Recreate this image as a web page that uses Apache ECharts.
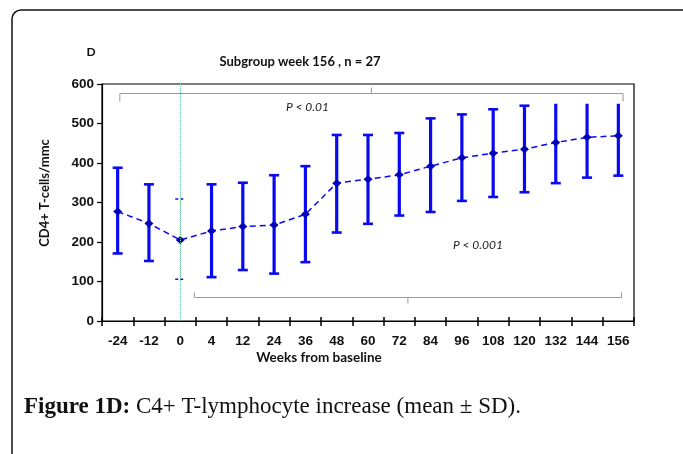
<!DOCTYPE html>
<html>
<head>
<meta charset="utf-8">
<script src="https://cdn.jsdelivr.net/npm/echarts@6/dist/echarts.min.js"></script>
<style>
  html, body { margin: 0; padding: 0; background: #fff; }
  #chart { width: 683px; height: 454px; }
</style>
</head>
<body>
<div id="chart"></div>
<script>
// ---- data ----
const categories = ['-24', '-12', '0', '4', '12', '24', '36', '48', '60', '72', '84', '96', '108', '120', '132', '144', '156'];
const meanValues = [277, 247, 205, 228, 239, 243, 270, 349, 359, 370, 392, 413, 425, 435, 452, 465, 469];
const upperValues = [388, 346, 309, 346, 350, 369, 392, 471, 471, 476, 513, 523, 536, 545, 553, 553, 553];
const lowerValues = [171, 152, 106, 111, 129, 120, 149, 224, 246, 267, 276, 304, 314, 326, 349, 363, 368];
const yTicks = [0, 100, 200, 300, 400, 500, 600];
const bracketFrom = ['-24', '4'];
const bracketTo = ['156', '156'];
const bracketValue = [577, 61];
const bracketLabels = ['P < 0.01', 'P < 0.001'];
const titleText = 'Subgroup week 156 , n = 27';
const panelLetter = 'D';
const yAxisTitle = 'CD4+ T-cells/mmc';
const xAxisTitle = 'Weeks from baseline';
const captionBold = 'Figure 1D:';
const captionRest = ' C4+ T-lymphocyte increase (mean ± SD).';
const baselineCategory = '0';

// ---- styles / layout (not data) ----
const BLUE = '#0a0af0';
const DARK_BLUE = '#0000b8';
const capClip = 550; // caps above this level are cut off in the original figure
const bracketStyle = [
  { leftOff: 0.07, rightOff: 0.15, endTick: 8, midTick: -6, labelDx: -64, labelDy: 14 },
  { leftOff: -0.55, rightOff: 0.1, endTick: -5, midTick: 6, labelDx: 70, labelDy: -52 }
];

const chart = echarts.init(document.getElementById('chart'), null, { renderer: 'canvas' });

const errData = categories.map((c, i) => [i, lowerValues[i], upperValues[i]]);
const bracketData = bracketFrom.map((f, k) => [categories.indexOf(f), categories.indexOf(bracketTo[k]), bracketValue[k], k]);

const option = {
  animation: false,
  backgroundColor: '#fff',
  grid: { left: 102, top: 84, right: 49, bottom: 133, show: true, borderColor: '#000', borderWidth: 1.2 },
  xAxis: [{
    type: 'category',
    data: categories,
    boundaryGap: true,
    axisLine: { lineStyle: { color: '#000', width: 1.2 } },
    axisTick: { show: true, length: 5, lineStyle: { color: '#000', width: 1.5 } },
    axisLabel: { color: '#111', fontFamily: 'Liberation Sans', fontWeight: 'bold', fontSize: 13.5, margin: 13 },
    splitLine: { show: false }
  }, {
    type: 'category',
    data: categories,
    boundaryGap: true,
    position: 'bottom',
    axisLine: { show: false },
    axisTick: { show: true, inside: true, length: 4, lineStyle: { color: '#000', width: 1.5 } },
    axisLabel: { show: false },
    splitLine: { show: false }
  }],
  yAxis: {
    type: 'value',
    min: 0, max: 600, interval: 100,
    axisLine: { show: true, lineStyle: { color: '#000', width: 1.2 } },
    axisTick: { show: true, length: 5, lineStyle: { color: '#000', width: 1.2 } },
    axisLabel: {
      color: '#111', fontFamily: 'Liberation Sans', fontWeight: 'bold', fontSize: 13.5, margin: 8,
      formatter: v => (yTicks.indexOf(v) >= 0 ? String(v) : '')
    },
    splitLine: { show: false }
  },
  graphic: [
    { type: 'rect', shape: { x: 12, y: 10, width: 720, height: 520, r: 9 }, style: { fill: 'none', stroke: '#111', lineWidth: 1.5 }, z: 0, silent: true },
    { type: 'text', x: 91, y: 52, style: { text: panelLetter, font: 'bold 12px Lato', fill: '#111', align: 'center', verticalAlign: 'middle' } },
    { type: 'text', x: 300, y: 62, style: { text: titleText, font: 'bold 13px Lato', fill: '#111', align: 'center', verticalAlign: 'middle' } },
    { type: 'text', x: 45, y: 193, rotation: Math.PI / 2, style: { text: yAxisTitle, font: 'bold 13px Lato', fill: '#111', align: 'center', verticalAlign: 'middle' } },
    { type: 'text', x: 319, y: 358, style: { text: xAxisTitle, font: 'bold 13.5px Lato', fill: '#111', align: 'center', verticalAlign: 'middle' } },
    { type: 'text', x: 24, y: 407, style: { rich: { b: { font: 'bold 23px "Liberation Serif"', fill: '#111' }, r: { font: '23px "Liberation Serif"', fill: '#111' } }, text: '{b|' + captionBold + '}{r|' + captionRest + '}', verticalAlign: 'middle' } }
  ],
  series: [
    {
      type: 'custom',
      name: 'SD',
      xAxisIndex: 0,
      data: errData,
      encode: { x: 0, y: [1, 2] },
      z: 2,
      renderItem: function (params, api) {
        const i = api.value(0);
        const lo = api.coord([i, api.value(1)]);
        const hi = api.coord([i, api.value(2)]);
        const capTop = api.coord([i, capClip]);
        const isBase = categories[i] === baselineCategory;
        const halfCap = 5;
        const children = [];
        if (isBase) {
          const st = { stroke: BLUE, lineWidth: 1.5, lineDash: [3, 2] };
          children.push({ type: 'line', shape: { x1: lo[0] - halfCap, y1: lo[1], x2: lo[0] + halfCap, y2: lo[1] }, style: st });
          children.push({ type: 'line', shape: { x1: hi[0] - halfCap, y1: hi[1], x2: hi[0] + halfCap, y2: hi[1] }, style: st });
          children.push({ type: 'line', shape: { x1: lo[0], y1: lo[1], x2: hi[0], y2: hi[1] }, style: { stroke: '#c8d0ff', lineWidth: 1 } });
        } else {
          const st = { stroke: BLUE, lineWidth: 3.2 };
          const topY = Math.max(hi[1], capTop[1]);
          children.push({ type: 'line', shape: { x1: lo[0], y1: lo[1], x2: lo[0], y2: topY }, style: st });
          children.push({ type: 'line', shape: { x1: lo[0] - halfCap, y1: lo[1], x2: lo[0] + halfCap, y2: lo[1] }, style: { stroke: BLUE, lineWidth: 2.6 } });
          if (api.value(2) < capClip) {
            children.push({ type: 'line', shape: { x1: hi[0] - halfCap, y1: hi[1], x2: hi[0] + halfCap, y2: hi[1] }, style: { stroke: BLUE, lineWidth: 2.6 } });
          }
        }
        return { type: 'group', children: children };
      }
    },
    {
      type: 'custom',
      name: 'brackets',
      xAxisIndex: 0,
      data: bracketData,
      encode: { x: [0, 1], y: 2 },
      z: 1,
      renderItem: function (params, api) {
        const k = api.value(3);
        const cfg = bracketStyle[k];
        const band = api.size([1, 0])[0];
        const a = api.coord([api.value(0), api.value(2)]);
        const b = api.coord([api.value(1), api.value(2)]);
        const x1 = a[0] + cfg.leftOff * band;
        const x2 = b[0] + cfg.rightOff * band;
        const y = Math.round(a[1]) + 0.5;
        const mid = (x1 + x2) / 2;
        const st = { stroke: '#9a9a9a', lineWidth: 1 };
        return {
          type: 'group',
          children: [
            { type: 'polyline', shape: { points: [[x1, y + cfg.endTick], [x1, y], [x2, y], [x2, y + cfg.endTick]] }, style: Object.assign({ fill: 'none' }, st) },
            { type: 'line', shape: { x1: mid, y1: y, x2: mid, y2: y + cfg.midTick }, style: st },
            { type: 'text', x: mid + cfg.labelDx, y: y + cfg.labelDy, style: { text: bracketLabels[k], font: 'italic 12px Lato', fill: '#222', align: 'center', verticalAlign: 'middle' } }
          ]
        };
      }
    },
    {
      type: 'line',
      name: 'mean',
      xAxisIndex: 0,
      data: meanValues,
      z: 3,
      symbol: 'diamond',
      symbolSize: [9, 8],
      itemStyle: { color: DARK_BLUE },
      lineStyle: { color: BLUE, width: 1.5, type: [6, 4] },
      markLine: {
        silent: true,
        symbol: 'none',
        label: { show: false },
        lineStyle: { color: '#6fc0a0', width: 1, type: [1, 1] },
        data: [{ xAxis: baselineCategory }]
      }
    }
  ]
};
chart.setOption(option);
</script>
</body>
</html>
